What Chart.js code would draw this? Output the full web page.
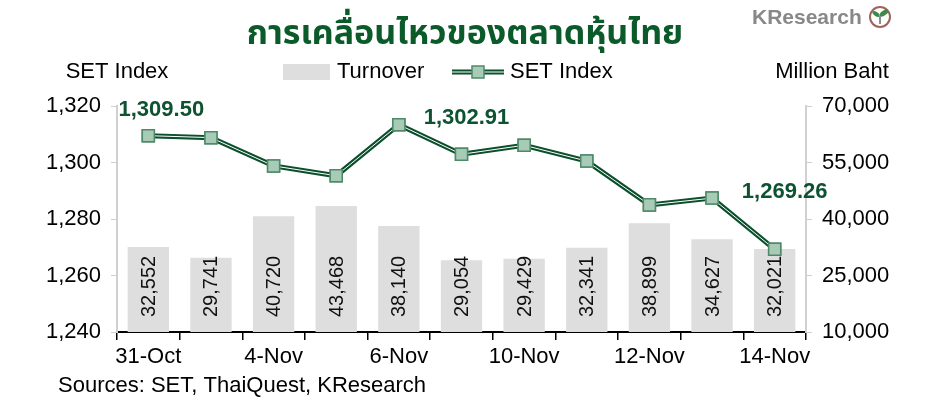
<!DOCTYPE html>
<html>
<head>
<meta charset="utf-8">
<script src="https://cdn.jsdelivr.net/npm/chart.js@4.4.1/dist/chart.umd.min.js"></script>
<style>
html,body{margin:0;padding:0;background:#fff;}
#wrap{position:relative;width:952px;height:404px;}
</style>
</head>
<body>
<div id="wrap"><canvas id="myChart" width="952" height="404"></canvas></div>
<script>
const dias = ['31-Oct','3-Nov','4-Nov','5-Nov','6-Nov','7-Nov','10-Nov','11-Nov','12-Nov','13-Nov','14-Nov'];
const setIndex = [1309.50, 1308.8, 1298.8, 1295.3, 1313.4, 1302.91, 1306.1, 1300.5, 1285.0, 1287.4, 1269.26];
const turnover = [32552, 29741, 40720, 43468, 38140, 29054, 29429, 32341, 38899, 34627, 32021];
const puntosEtiqueta = [0, 5, 10];
const tituloGrafico = 'การเคลื่อนไหวของตลาดหุ้นไทย';
const fuente = 'Sources: SET, ThaiQuest, KResearch';

const verde = '#0b4f2c';
const fam = '"Liberation Sans", Arial, sans-serif';
const fmt = v => Number(v).toLocaleString('en-US');

// dibuja titulo, leyenda, etiquetas, etc
const decoraciones = {
  id: 'decoraciones',
  afterDatasetsDraw(chart) {
    const ctx = chart.ctx;
    const lineMeta = chart.getDatasetMeta(1);
    const barMeta = chart.getDatasetMeta(0);
    const yL = chart.scales.y;

    // linea blanca dentro de la linea verde
    ctx.save();
    ctx.strokeStyle = '#ffffff';
    ctx.lineWidth = 1;
    ctx.lineJoin = 'round';
    ctx.beginPath();
    lineMeta.data.forEach((p, i) => { if (i == 0) ctx.moveTo(p.x, p.y); else ctx.lineTo(p.x, p.y); });
    ctx.stroke();
    ctx.restore();
    lineMeta.data.forEach(p => p.draw(ctx, chart.chartArea));

    // valores dentro de las barras
    ctx.save();
    ctx.font = '20px ' + fam;
    ctx.fillStyle = '#111';
    ctx.textAlign = 'left';
    ctx.textBaseline = 'middle';
    barMeta.data.forEach((b, i) => {
      ctx.save();
      ctx.translate(b.x + 1, yL.bottom - 15);
      ctx.rotate(-Math.PI / 2);
      ctx.fillText(fmt(turnover[i]), 0, 0);
      ctx.restore();
    });
    ctx.restore();

    // etiquetas de puntos
    ctx.save();
    ctx.font = 'bold 22px ' + fam;
    ctx.fillStyle = '#0d5231';
    ctx.textAlign = 'center';
    ctx.textBaseline = 'middle';
    const offs = [[13, -26], [5, -36], [10, -57]];
    puntosEtiqueta.forEach((idx, k) => {
      const p = lineMeta.data[idx];
      ctx.fillText(setIndex[idx].toLocaleString('en-US', {minimumFractionDigits: 2}), p.x + offs[k][0], p.y + offs[k][1]);
    });
    ctx.restore();
  },
  afterDraw(chart) {
    const ctx = chart.ctx;
    ctx.save();
    // titulo
    ctx.font = 'bold 34px "Noto Sans Thai", "Noto Sans", ' + fam;
    ctx.fillStyle = '#0b5a2a';
    ctx.textAlign = 'center';
    ctx.textBaseline = 'middle';
    ctx.fillText(tituloGrafico, 465, 37);

    // logo
    ctx.font = 'bold 21px ' + fam;
    ctx.fillStyle = '#888888';
    ctx.textAlign = 'left';
    ctx.fillText('KResearch', 752, 18);
    ctx.beginPath();
    ctx.arc(880, 17, 10, 0, Math.PI * 2);
    ctx.strokeStyle = '#a0635a';
    ctx.lineWidth = 2;
    ctx.stroke();
    ctx.fillStyle = '#3f8a4a';
    ctx.beginPath();
    ctx.ellipse(884, 13, 5, 2.5, -0.6, 0, Math.PI * 2);
    ctx.fill();
    ctx.beginPath();
    ctx.ellipse(876, 14, 4, 2, 0.6, 0, Math.PI * 2);
    ctx.fill();
    ctx.fillStyle = '#8c8c8c';
    ctx.fillRect(879, 16, 2, 8);

    // titulos de ejes
    ctx.font = '22px ' + fam;
    ctx.fillStyle = '#000';
    ctx.textAlign = 'center';
    ctx.fillText('SET Index', 117, 72);
    ctx.fillText('Million Baht', 832, 72);

    // leyenda
    ctx.fillStyle = '#dedede';
    ctx.fillRect(283, 64, 47, 16);
    ctx.fillStyle = '#000';
    ctx.textAlign = 'left';
    ctx.fillText('Turnover', 337, 72);
    ctx.strokeStyle = verde;
    ctx.lineWidth = 5;
    ctx.beginPath(); ctx.moveTo(452, 72); ctx.lineTo(504, 72); ctx.stroke();
    ctx.strokeStyle = '#fff';
    ctx.lineWidth = 1;
    ctx.beginPath(); ctx.moveTo(452, 72); ctx.lineTo(504, 72); ctx.stroke();
    ctx.fillStyle = '#a8cbb8';
    ctx.strokeStyle = '#4f8a68';
    ctx.lineWidth = 1.5;
    ctx.fillRect(472, 66, 12, 12);
    ctx.strokeRect(472, 66, 12, 12);
    ctx.fillStyle = '#000';
    ctx.fillText('SET Index', 510, 72);

    // fuente
    ctx.fillText(fuente, 58, 386);
    ctx.restore();
  }
};

const grafico = document.getElementById('myChart');
new Chart(grafico, {
  type: 'bar',
  data: {
    labels: dias,
    datasets: [{
      type: 'bar',
      label: 'Turnover',
      data: turnover,
      yAxisID: 'y2',
      backgroundColor: '#dedede',
      barPercentage: 0.66,
      categoryPercentage: 1,
      order: 2
    },
    {
      type: 'line',
      label: 'SET Index',
      data: setIndex,
      yAxisID: 'y',
      borderColor: verde,
      borderWidth: 5,
      tension: 0,
      pointStyle: 'rect',
      pointRadius: 8.5,
      pointBackgroundColor: '#a8cbb8',
      pointBorderColor: '#4f8a68',
      pointBorderWidth: 1.5,
      order: 1
    }]
  },
  options: {
    responsive: false,
    animation: false,
    devicePixelRatio: 1,
    layout: { padding: { top: 106, left: 0, right: 0, bottom: 0 } },
    plugins: {
      legend: { display: false },
      tooltip: { enabled: false }
    },
    scales: {
      x: {
        offset: true,
        grid: { offset: true, drawOnChartArea: false, color: '#000', lineWidth: 1.5, tickLength: 8 },
        border: { color: '#000', width: 2 },
        ticks: {
          autoSkip: false,
          maxRotation: 0,
          padding: 4,
          color: '#000',
          font: { family: fam, size: 22 },
          callback: function (v, i) { return i % 2 == 0 ? dias[i] : ''; }
        },
        afterFit: s => { s.height = 72; }
      },
      y: {
        position: 'left',
        min: 1240, max: 1320,
        grid: { drawOnChartArea: false, color: '#d0d0d0', tickLength: 6 },
        border: { color: '#d0d0d0', width: 2 },
        ticks: {
          stepSize: 20, padding: 10, color: '#000',
          font: { family: fam, size: 22 },
          callback: v => fmt(v)
        },
        afterFit: s => { s.width = 117; }
      },
      y2: {
        position: 'right',
        min: 10000, max: 70000,
        grid: { drawOnChartArea: false, color: '#d0d0d0', tickLength: 6 },
        border: { color: '#d0d0d0', width: 2 },
        ticks: {
          stepSize: 15000, padding: 10, color: '#000',
          font: { family: fam, size: 22 },
          callback: v => fmt(v)
        },
        afterFit: s => { s.width = 146; }
      }
    }
  },
  plugins: [decoraciones]
});
</script>
</body>
</html>
